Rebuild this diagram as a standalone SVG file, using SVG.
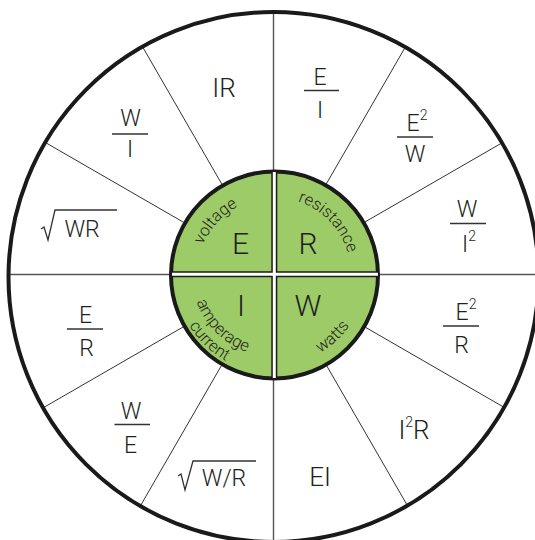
<svg xmlns="http://www.w3.org/2000/svg" width="535" height="540" viewBox="0 0 535 540">
<style>
text{font-family:Roboto,"Liberation Sans",Arial,sans-serif;font-weight:300;fill:#231f20;text-anchor:middle}
.lbl{font-size:23px}
.one{font-size:26px}
.big{font-size:30px}
.sm{font-size:16.5px}
.sup{font-size:14px}
.bar{stroke:#333;stroke-width:1.3;fill:none}
.spoke{stroke:#333;stroke-width:1;fill:none}
.axis{stroke:#555;stroke-width:1.4;fill:none}
</style>
<defs>
<clipPath id="outerClip"><circle cx="273.5" cy="277" r="265"/></clipPath>
<path id="arcTop" d="M197,274.5 A77,77 0 0 1 351,274.5"/>
<path id="arcWatts" d="M183,274.5 A91,91 0 0 0 365,274.5"/>
<path id="arcAmp" d="M192,274.5 A82,82 0 0 0 356,274.5"/>
<path id="arcCur" d="M175,274.5 A99,99 0 0 0 373,274.5"/>
</defs>
<rect width="535" height="540" fill="#fff"/>
<g id="connectors" clip-path="url(#outerClip)">
<line class="axis" x1="273.5" y1="0" x2="273.5" y2="540"/>
<line class="axis" x1="0" y1="274.5" x2="535" y2="274.5"/>
<line class="spoke" x1="424" y1="14.7" x2="124" y2="534.3"/>
<line class="spoke" x1="124" y1="14.7" x2="424" y2="534.3"/>
<line class="spoke" x1="14.2" y1="124.5" x2="533.8" y2="424.5"/>
<line class="spoke" x1="14.2" y1="424.5" x2="533.8" y2="124.5"/>
</g>
<circle id="outer-ring" cx="273.5" cy="277" r="265" fill="none" stroke="#1a1a1a" stroke-width="4"/>
<g id="center">
<circle cx="274.5" cy="275" r="103.5" fill="#9dcb67" stroke="#1a1a1a" stroke-width="4"/>
<line x1="274.3" y1="172" x2="274.3" y2="378" stroke="#1a1a1a" stroke-width="6"/>
<line x1="172" y1="274.3" x2="378" y2="274.3" stroke="#1a1a1a" stroke-width="6"/>
<line x1="274.3" y1="172" x2="274.3" y2="378" stroke="#fff" stroke-width="3"/>
<line x1="172" y1="274.3" x2="378" y2="274.3" stroke="#fff" stroke-width="3"/>
</g>
<g id="node-voltage"><text class="big" x="240.5" y="254">E</text><text class="sm"><textPath href="#arcTop" startOffset="23.5%">voltage</textPath></text></g>
<g id="node-resistance"><text class="big" x="308" y="254">R</text><text class="sm"><textPath href="#arcTop" startOffset="75.5%">resistance</textPath></text></g>
<g id="node-current"><text class="big" x="241" y="316">I</text><text class="sm"><textPath href="#arcAmp" startOffset="25%">amperage</textPath></text><text class="sm"><textPath href="#arcCur" startOffset="25.5%">current</textPath></text></g>
<g id="node-watts"><text class="big" x="308" y="316">W</text><text class="sm"><textPath href="#arcWatts" startOffset="74%">watts</textPath></text></g>

<g id="f-IR"><text class="one" x="224" y="97">IR</text></g>
<g id="f-E-over-I"><text class="lbl" x="320" y="85">E</text><line class="bar" x1="304" y1="90.5" x2="339" y2="90.5"/><text class="lbl" x="320" y="118">I</text></g>
<g id="f-E2-over-W"><text class="lbl" x="417" y="130.5">E<tspan class="sup" dy="-11">2</tspan></text><line class="bar" x1="397" y1="137" x2="433" y2="137"/><text class="lbl" x="415" y="162">W</text></g>
<g id="f-W-over-I2"><text class="lbl" x="467" y="217">W</text><line class="bar" x1="450" y1="223.5" x2="486" y2="223.5"/><text class="lbl" x="469" y="252">I<tspan class="sup" dy="-11">2</tspan></text></g>
<g id="f-E2-over-R"><text class="lbl" x="466" y="320">E<tspan class="sup" dy="-11">2</tspan></text><line class="bar" x1="443" y1="326" x2="479" y2="326"/><text class="lbl" x="461.5" y="353">R</text></g>
<g id="f-I2R"><text class="one" x="414" y="439">I<tspan class="sup" dy="-12">2</tspan><tspan dy="12">R</tspan></text></g>
<g id="f-EI"><text class="one" x="320" y="486">EI</text></g>
<g id="f-sqrt-W-over-R"><path class="bar" d="M178,476 L181,474 L185,490 L193,461 L256,461"/><text class="lbl" x="224" y="486">W/R</text></g>
<g id="f-W-over-E"><text class="lbl" x="131" y="418.5">W</text><line class="bar" x1="114.5" y1="424.5" x2="150" y2="424.5"/><text class="lbl" x="130.5" y="452.5">E</text></g>
<g id="f-E-over-R"><text class="lbl" x="85.5" y="323">E</text><line class="bar" x1="67" y1="329" x2="103" y2="329"/><text class="lbl" x="86.5" y="356">R</text></g>
<g id="f-sqrt-WR"><path class="bar" d="M41,229 L44,227 L48,240 L55,210 L117,210"/><text class="lbl" x="82" y="237">WR</text></g>
<g id="f-W-over-I"><text class="lbl" x="130.5" y="125.5">W</text><line class="bar" x1="112" y1="134" x2="148" y2="134"/><text class="lbl" x="130" y="157">I</text></g>
</svg>
